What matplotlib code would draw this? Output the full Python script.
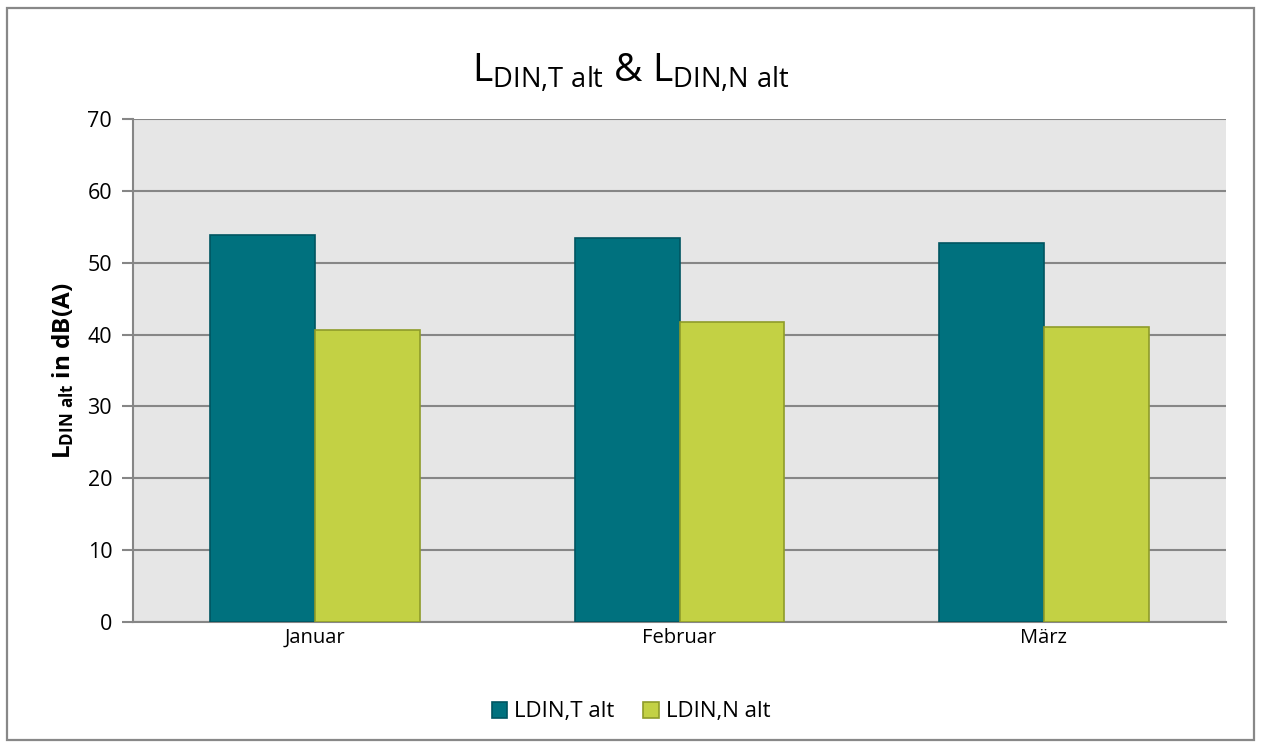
import numpy as np
import matplotlib.pyplot as plt
from matplotlib.patches import Rectangle

plt.rcParams['font.family'] = 'Open Sans'
plt.rcParams['mathtext.fontset'] = 'custom'
plt.rcParams['mathtext.rm'] = 'Open Sans'
plt.rcParams['mathtext.it'] = 'Open Sans'
plt.rcParams['mathtext.bf'] = 'Open Sans:bold'

monate = ['Januar', 'Februar', 'März']
ldin_t_alt = [53.8, 53.4, 52.7]
ldin_n_alt = [40.7, 41.8, 41.1]
serien = ['LDIN,T alt', 'LDIN,N alt']

teal = '#00717e'
teal_rand = '#005561'
gruen = '#c3d144'
gruen_rand = '#8f9c2a'

fig = plt.figure(figsize=(12.62, 7.47), dpi=100)
ax = fig.add_axes([0.1054, 0.1673, 0.8661, 0.6734])

# Rahmen um das ganze Diagramm
fig.patches.append(Rectangle((7 / 1262, 7 / 747), 1247 / 1262, 732 / 747,
                             transform=fig.transFigure, fill=False,
                             edgecolor='#888888', linewidth=1.6))

x = np.arange(len(monate))
b = 0.288
ax.bar(x - b / 2, ldin_t_alt, b, color=teal, edgecolor=teal_rand,
       linewidth=1.2, label=serien[0], zorder=3)
ax.bar(x + b / 2, ldin_n_alt, b, color=gruen, edgecolor=gruen_rand,
       linewidth=1.2, label=serien[1], zorder=3)

ax.set_facecolor('#e6e6e6')
ax.set_xlim(-0.5, 2.5)
ax.set_ylim(0, 70)
ax.set_yticks(range(0, 71, 10))
ax.yaxis.grid(True, color='#868686', linewidth=1.5, zorder=1)
ax.set_axisbelow(True)
for s in ['top', 'right']:
    ax.spines[s].set_visible(False)
for s in ['left', 'bottom']:
    ax.spines[s].set_color('#868686')
    ax.spines[s].set_linewidth(1.5)
ax.set_xticks(x)
ax.set_xticklabels(monate, fontsize=14.5)
ax.tick_params(axis='x', length=0, pad=4)
ax.tick_params(axis='y', labelsize=15.5, length=8, width=1.5,
               color='#868686', pad=7)

ax.set_ylabel(r'$\mathbf{L_{DIN\ alt}}$ in dB(A)', fontsize=17.5,
              fontweight='bold', labelpad=8)

fig.text(0.5, 0.903,
         r'$\mathregular{L_{DIN{,}T\ alt}}$ & $\mathregular{L_{DIN{,}N\ alt}}$',
         ha='center', va='center', fontsize=28)

fig.legend(loc='center', bbox_to_anchor=(0.5, 1 - 712 / 747), ncol=2,
           frameon=False, fontsize=16, handlelength=0.7, handleheight=0.7,
           handletextpad=0.3, columnspacing=1.3)

fig.savefig('out.png', dpi=100)
